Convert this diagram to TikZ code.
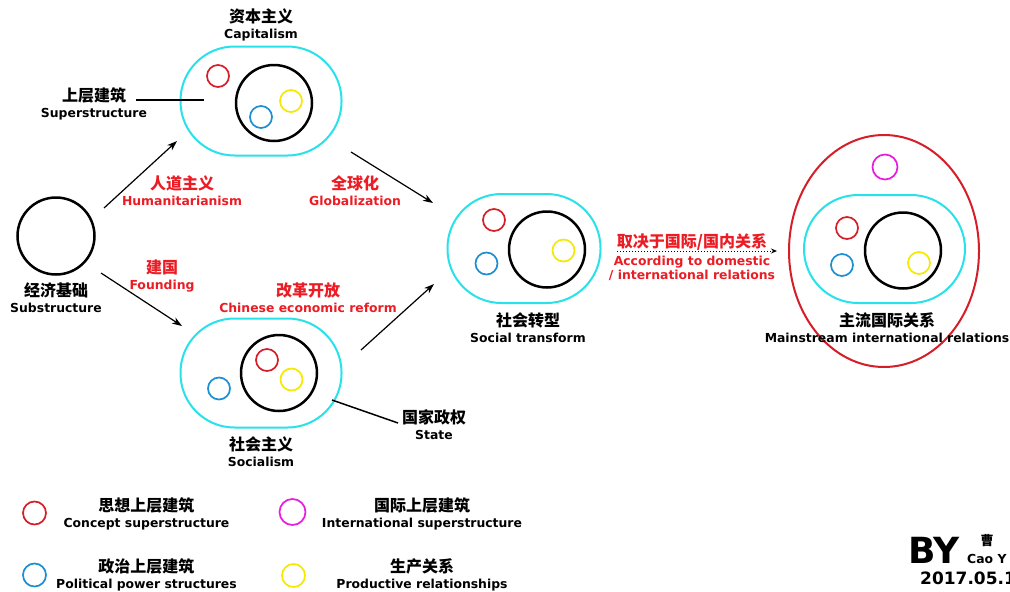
\documentclass[tikz,border=0pt]{standalone}
\usepackage{fontspec}
\setmainfont{DejaVu Sans}
\newfontfamily\zhfont{Noto Sans CJK SC}
\usetikzlibrary{arrows.meta,shapes.geometric}
\definecolor{hullcyan}{RGB}{40,226,234}
\definecolor{ideared}{RGB}{214,30,40}
\definecolor{polblue}{RGB}{28,142,210}
\definecolor{prodyel}{RGB}{246,232,0}
\definecolor{intlmag}{RGB}{232,28,222}
\definecolor{textred}{RGB}{236,28,36}
\newcommand{\zh}[1]{{\zhfont\bfseries\fontsize{16}{16}\selectfont #1}}
\newcommand{\en}[1]{{\bfseries\fontsize{12.4}{15}\selectfont #1}}
\tikzset{
  hull/.style={draw=hullcyan, line width=2pt, rounded corners=54pt,
    minimum width=161pt, minimum height=109pt, inner sep=0pt},
  core/.style={circle, draw=black, line width=2.5pt, minimum size=76pt, inner sep=0pt},
  dot/.style={circle, line width=1.7pt, minimum size=22pt, inner sep=0pt},
  tag/.style={align=center, inner sep=0pt, font=\fontsize{12.4}{16}\selectfont},
  redtag/.style={tag, text=textred},
  arr/.style={-{Stealth[length=10pt,width=7pt,inset=3pt]}, line width=1.2pt},
}
\begin{document}
\begin{tikzpicture}[x=1pt, y=-1pt]
  \useasboundingbox (0,0) rectangle (1010,592);
  \clip (0,0) rectangle (1010,592);
  \fill[white] (0,0) rectangle (1010,592);

  % substructure
  \node[core, minimum size=77pt] (base) at (56,236) {};
  \node[tag] (base-l) at (56,298) {\zh{经济基础}\\\en{Substructure}};

  % capitalism
  \node[hull] (cap) at (261,101) {};
  \node[core] (cap-c) at (274,103) {};
  \node[dot, draw=ideared] (cap-r) at (218,76) {};
  \node[dot, draw=polblue] (cap-b) at (261,117) {};
  \node[dot, draw=prodyel] (cap-y) at (291,101) {};
  \node[tag] (cap-l) at (261,25) {\zh{资本主义}\\\en{Capitalism}};
  \node[tag] (sup-l) at (94,104) {\zh{上层建筑}\\\en{Superstructure}};

  % socialism
  \node[hull] (soc) at (261,373) {};
  \node[core] (soc-c) at (279,373) {};
  \node[dot, draw=ideared] (soc-r) at (267,360) {};
  \node[dot, draw=polblue] (soc-b) at (219,388.5) {};
  \node[dot, draw=prodyel] (soc-y) at (291.5,379.5) {};
  \node[tag] (soc-l) at (261,452) {\zh{社会主义}\\\en{Socialism}};
  \node[tag] (state-l) at (434,425) {\zh{国家政权}\\\en{State}};

  % social transform
  \node[hull, minimum width=153pt] (trans) at (524,248.5) {};
  \node[core] (trans-c) at (547,249.5) {};
  \node[dot, draw=ideared] (trans-r) at (494,220) {};
  \node[dot, draw=polblue] (trans-b) at (486.5,263.5) {};
  \node[dot, draw=prodyel] (trans-y) at (563.5,250.5) {};
  \node[tag] (trans-l) at (528,328) {\zh{社会转型}\\\en{Social transform}};

  % mainstream international relations
  \node[ellipse, draw=ideared, line width=2pt, minimum width=190pt,
    minimum height=232pt, inner sep=0pt] (world) at (884,251) {};
  \node[dot, draw=intlmag, minimum size=25pt] (world-m) at (885,167) {};
  \node[hull, minimum height=108pt] (main) at (884.5,249) {};
  \node[core] (main-c) at (903,250.5) {};
  \node[dot, draw=ideared] (main-r) at (847,228) {};
  \node[dot, draw=polblue] (main-b) at (842,265) {};
  \node[dot, draw=prodyel] (main-y) at (919,263) {};
  \node[tag] (main-l) at (887,328) {\zh{主流国际关系}\\\en{Mainstream international relations}};

  % red captions
  \node[redtag] (hum-l) at (182,191) {\zh{人道主义}\\\en{Humanitarianism}};
  \node[redtag] (glob-l) at (355,191) {\zh{全球化}\\\en{Globalization}};
  \node[redtag] (found-l) at (162,276) {\zh{建国}\\\en{Founding}};
  \node[redtag] (reform-l) at (308,298) {\zh{改革开放}\\\en{Chinese economic reform}};
  \node[redtag, font=\fontsize{12.4}{12}\selectfont] (dep-l) at (692,257)
    {\zh{取决于国际/国内关系}\\[5pt]\en{According to domestic}\\\en{/ international relations}};

  % arrow ends
  \coordinate (hum-s) at (104,208);
  \coordinate (hum-e) at (177,141);
  \coordinate (glob-s) at (351,152);
  \coordinate (glob-e) at (433,203);
  \coordinate (found-s) at (101,273);
  \coordinate (found-e) at (182,326);
  \coordinate (reform-s) at (361,350);
  \coordinate (reform-e) at (434,284);
  \coordinate (sup-s) at (136,100);
  \coordinate (sup-e) at (204,100);
  \coordinate (state-s) at (332,400);
  \coordinate (state-e) at (398,423);
  \coordinate (dep-s) at (617,251);
  \coordinate (dep-e) at (777,251);

  \begin{scope}[arr]
    \draw (hum-s) to (hum-e);
    \draw (glob-s) to (glob-e);
    \draw (found-s) to (found-e);
    \draw (reform-s) to (reform-e);
  \end{scope}
  \draw[line width=1.5pt] (sup-s) -- (sup-e);
  \draw[line width=1.5pt] (state-s) -- (state-e);
  \draw[dotted, line width=1pt, -{Stealth[length=6pt,width=5pt]}] (dep-s) -- (dep-e);

  % legend
  \node[dot, draw=ideared, minimum size=23pt] (key-r) at (34.5,513) {};
  \node[dot, draw=intlmag, minimum size=26pt] (key-m) at (292.5,512) {};
  \node[dot, draw=polblue, minimum size=23pt] (key-b) at (34.5,575) {};
  \node[dot, draw=prodyel, minimum size=23pt] (key-y) at (293.5,575.5) {};
  \node[tag] (key-r-l) at (146.5,514) {\zh{思想上层建筑}\\\en{Concept superstructure}};
  \node[tag] (key-m-l) at (422,514) {\zh{国际上层建筑}\\\en{International superstructure}};
  \node[tag] (key-b-l) at (146.5,575) {\zh{政治上层建筑}\\\en{Political power structures}};
  \node[tag] (key-y-l) at (422,575) {\zh{生产关系}\\\en{Productive relationships}};

  % signature
  \node[anchor=base west, inner sep=0pt, font=\bfseries\fontsize{36}{36}\selectfont] (by) at (908,563) {BY};
  \node[inner sep=0pt] (by-zh) at (987,541) {\zhfont\bfseries\fontsize{13}{13}\selectfont 曹};
  \node[anchor=base west, inner sep=0pt, font=\bfseries\fontsize{12.4}{12}\selectfont] (by-en) at (967,563) {Cao Y};
  \node[anchor=base west, inner sep=0pt, font=\bfseries\fontsize{17}{17}\selectfont] (by-date) at (920,584) {2017.05.1};
\end{tikzpicture}
\end{document}
